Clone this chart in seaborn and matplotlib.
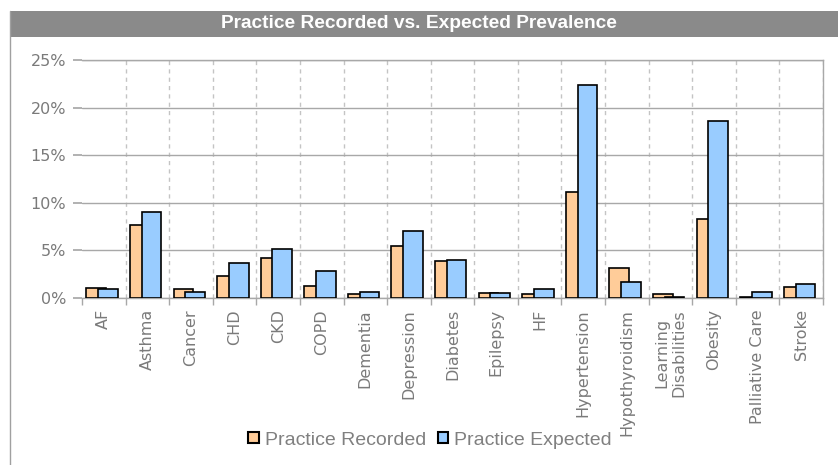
import matplotlib
matplotlib.use("Agg")
import matplotlib.pyplot as plt
import seaborn as sns
import pandas as pd
from matplotlib.patches import Rectangle
from matplotlib.lines import Line2D
from matplotlib.ticker import MultipleLocator, FuncFormatter

# Datos (en %)
categorias = ["AF", "Asthma", "Cancer", "CHD", "CKD", "COPD", "Dementia",
              "Depression", "Diabetes", "Epilepsy", "HF", "Hypertension",
              "Hypothyroidism", "Learning\nDisabilities", "Obesity",
              "Palliative Care", "Stroke"]
recorded = [1.1, 7.65, 0.95, 2.35, 4.2, 1.25, 0.45, 5.45, 3.85, 0.55, 0.42,
            11.1, 3.2, 0.4, 8.25, 0.1, 1.2]
expected = [0.95, 9.05, 0.6, 3.7, 5.15, 2.8, 0.6, 7.0, 4.0, 0.55, 0.9,
            22.35, 1.7, 0.1, 18.55, 0.6, 1.5]
series = ["Practice Recorded", "Practice Expected"]
colores = ["#FFCC99", "#99CCFF"]

sns.set_theme(style="white")
plt.rcParams["font.family"] = ["Liberation Sans", "DejaVu Sans"]

n = len(categorias)
df = pd.DataFrame({
    "cat": categorias * 2,
    "valor": recorded + expected,
    "serie": [series[0]] * n + [series[1]] * n,
})

fig = plt.figure(figsize=(8.38, 4.65), dpi=100)
ax = fig.add_axes([82 / 838, 1 - 298 / 465, 741 / 838, 238 / 465])

sns.barplot(data=df, x="cat", y="valor", hue="serie", palette=colores,
            saturation=1, edgecolor="black", linewidth=1.2, width=0.8, ax=ax,
            legend=False, errorbar=None, zorder=3)

# barras solapadas estilo Excel
offsets = [-0.40, -0.13]
for i, cont in enumerate(ax.containers):
    for j, p in enumerate(cont):
        p.set_x(j + offsets[i])
        p.set_width(0.45)

ax.set_xlim(-0.5, n - 0.5)
ax.set_ylim(0, 25)
ax.set_xlabel("")
ax.set_ylabel("")

gris = "#a8a8a8"
texto = "#7a7a7a"
ax.yaxis.set_major_locator(MultipleLocator(5))
ax.yaxis.set_major_formatter(FuncFormatter(lambda v, _: f"{v:.0f}%"))
ax.yaxis.grid(True, color=gris, lw=1, zorder=0)
ax.tick_params(axis="y", length=6.5, color=gris, labelcolor=texto, left=True, pad=5)
for t in ax.get_yticklabels():
    t.set_fontfamily("DejaVu Sans")
    t.set_fontsize(11.5)

ax.set_xticks(range(n))
ax.set_xticklabels(categorias, rotation=90, va="top", ha="center",
                   fontfamily="DejaVu Sans", fontsize=11.5)
ax.set_xticks([k - 0.5 for k in range(n + 1)], minor=True)
ax.grid(which="minor", axis="x", color="#c4c4c4", ls=(0, (3, 3)), lw=1, zorder=0)
ax.xaxis.get_minor_ticks()[0].gridline.set_visible(False)
ax.tick_params(axis="x", which="major", length=0, labelcolor=texto, pad=8)
ax.tick_params(axis="x", which="minor", length=5, color=gris, bottom=True)

for lado in ["top", "right", "bottom"]:
    ax.spines[lado].set_color(gris)
    ax.spines[lado].set_linewidth(1)
ax.spines["left"].set_visible(False)

# barra de titulo
fig.add_artist(Rectangle((10 / 838, 1 - 37 / 465), 828 / 838, 26 / 465,
                         transform=fig.transFigure, facecolor="#8a8a8a",
                         edgecolor="none"))
fig.text(419 / 838, 1 - 24 / 465, "Practice Recorded vs. Expected Prevalence",
         color="white", weight="bold", fontsize=13.8, ha="center", va="center")
fig.add_artist(Line2D([10 / 838, 10 / 838], [0, 1 - 11 / 465],
                      transform=fig.transFigure, color="#a0a0a0", lw=1))

handles = [Rectangle((0, 0), 1, 1, facecolor=c, edgecolor="black", lw=1.5)
           for c in colores]
fig.legend(handles, series, loc="center", bbox_to_anchor=(430 / 838, 1 - 440 / 465),
           ncol=2, frameon=False, fontsize=14, handlelength=0.55, handleheight=0.55,
           handletextpad=0.3, columnspacing=0.6, labelcolor="#808080",
           borderpad=0, borderaxespad=0)

fig.savefig("out.png", dpi=100)
